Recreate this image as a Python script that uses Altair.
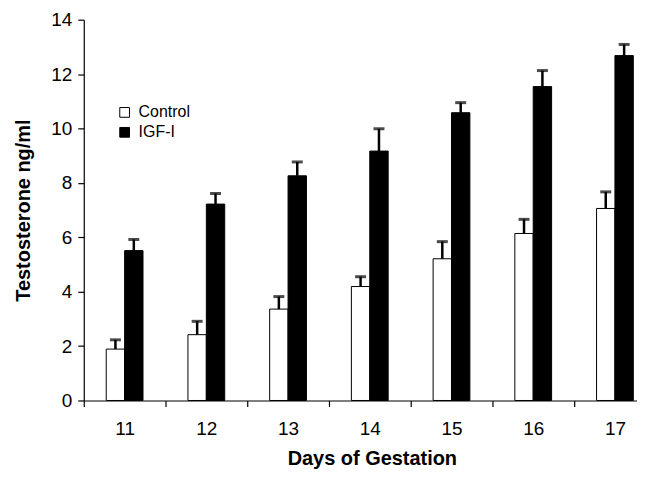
import altair as alt
import pandas as pd

days = [11, 12, 13, 14, 15, 16, 17]
control_mean = [1.89, 2.42, 3.36, 4.19, 5.21, 6.14, 7.06]
control_upper = [2.23, 2.91, 3.82, 4.55, 5.84, 6.66, 7.67]
igf_mean = [5.51, 7.22, 8.26, 9.17, 10.58, 11.54, 12.68]
igf_upper = [5.92, 7.61, 8.77, 9.99, 10.95, 12.13, 13.09]
groups = ["Control", "IGF-I"]

rows = []
for i, d in enumerate(days):
    rows.append({"day": d, "group": groups[0], "side": -1, "mean": control_mean[i], "upper": control_upper[i]})
    rows.append({"day": d, "group": groups[1], "side": 0, "mean": igf_mean[i], "upper": igf_upper[i]})
df = pd.DataFrame(rows)

FONT = "Liberation Sans"
BW = 0.225

xscale = alt.Scale(domain=[10.5, 17.27], nice=False, zero=False)
yscale = alt.Scale(domain=[0, 14], nice=False)

base = alt.Chart(df).transform_calculate(
    x0=f"datum.day + datum.side * {BW}",
    x1=f"datum.day + (datum.side + 1) * {BW}",
    xc=f"datum.day + (datum.side + 0.5) * {BW}",
)

bars = base.mark_bar(stroke="black", strokeWidth=1).encode(
    x=alt.X("x0:Q", scale=xscale,
            axis=alt.Axis(values=days, title="Days of Gestation", format="d",
                          tickOffset=-41, labelOffset=41, grid=False,
                          titlePadding=10, titleX=289, labelPadding=13)),
    x2="x1:Q",
    y=alt.Y("mean:Q", scale=yscale,
            axis=alt.Axis(values=[0, 2, 4, 6, 8, 10, 12, 14], title="Testosterone ng/ml",
                          grid=False, titlePadding=17, labelPadding=6)),
    y2=alt.datum(0),
    fill=alt.Fill("group:N",
                  scale=alt.Scale(domain=groups, range=["white", "black"]),
                  legend=alt.Legend(title=None, orient="none", legendX=33, legendY=85,
                                    symbolType="square", symbolSize=95,
                                    symbolStrokeColor="black", symbolStrokeWidth=1,
                                    labelFontSize=16, labelFont=FONT, labelColor="black",
                                    rowPadding=4, labelOffset=6)),
)

err = base.mark_rule(color="black", strokeWidth=2.5).encode(
    x="xc:Q", y="mean:Q", y2="upper:Q"
)
caps = base.mark_tick(color="black", thickness=3, size=11, orient="horizontal").encode(
    x="xc:Q", y="upper:Q"
)

chart = alt.layer(bars, err, caps).properties(
    width=555, height=382,
    autosize=alt.AutoSizeParams(type="none"),
    padding={"left": 76, "top": 11, "right": 0, "bottom": 69},
).configure_view(stroke=None).configure_axis(
    domainColor="black", tickColor="black", tickSize=6, domainWidth=1.2, tickWidth=1.2,
    labelFont=FONT, labelFontSize=19, labelColor="black",
    titleFont=FONT, titleFontSize=20, titleFontWeight="bold", titleColor="black",
)

chart.save("out.html", embed_options={"renderer": "svg", "actions": False})
